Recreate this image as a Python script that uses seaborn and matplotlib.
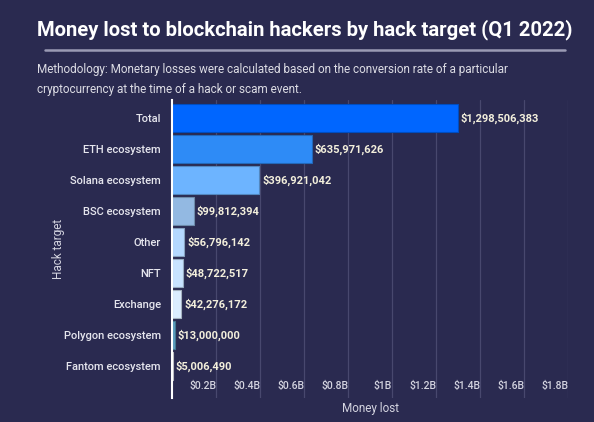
import matplotlib
matplotlib.use("Agg")
import matplotlib.pyplot as plt
import matplotlib.colors as mcolors
import seaborn as sns
import pandas as pd
import numpy as np

categories = ["Total", "ETH ecosystem", "Solana ecosystem", "BSC ecosystem", "Other",
              "NFT", "Exchange", "Polygon ecosystem", "Fantom ecosystem"]
values = [1298506383, 635971626, 396921042, 99812394, 56796142,
          48722517, 42276172, 13000000, 5006490]
colors = ["#0066ff", "#2e8bf6", "#6db4ff", "#93b9e2", "#b4d8ff",
          "#c8e3ff", "#dcedff", "#5a9dbf", "#f4f8ff"]
tick_vals = [0.2e9, 0.4e9, 0.6e9, 0.8e9, 1.0e9, 1.2e9, 1.4e9, 1.6e9, 1.8e9]
tick_labels = ["$0.2B", "$0.4B", "$0.6B", "$0.8B", "$1B", "$1.2B", "$1.4B", "$1.6B", "$1.8B"]

df = pd.DataFrame({"target": categories, "lost": values})

BG = "#2a2a50"
sns.set_theme(style="dark")
plt.rcParams["font.family"] = ["Roboto", "DejaVu Sans"]

fig = plt.figure(figsize=(5.94, 4.22), dpi=100, facecolor=BG)
ax = fig.add_axes([172/594, 1 - 398/422, (568 - 172)/594, (398 - 100)/422])
ax.set_facecolor(BG)

sns.barplot(data=df, x="lost", y="target", hue="target", palette=colors,
            order=categories, hue_order=categories, legend=False,
            orient="h", width=0.9, saturation=1, ax=ax)

for patch, c in zip(ax.patches, colors):
    rgb = np.array(mcolors.to_rgb(c)) * 0.75
    patch.set_edgecolor(rgb)
    patch.set_linewidth(0.8)

for cont in ax.containers:
    ax.bar_label(cont, labels=[f"${v:,.0f}" for v in cont.datavalues],
                 padding=2, color="#f3efdc", fontsize=8, fontweight="bold")

ax.set_xlim(0, 1.8e9)
ax.set_ylim(len(categories) - 1 + 1.03, -0.58)
ax.set_xticks(tick_vals)
ax.set_xticklabels(tick_labels, ha="right")
ax.tick_params(axis="x", pad=-12, length=0, colors="#d4d4e0", labelsize=7.5)
ax.tick_params(axis="y", length=0, colors="#e6e6ee", labelsize=8, pad=8)
for lbl in ax.get_xticklabels():
    lbl.set_fontweight("medium")
for lbl in ax.get_yticklabels():
    lbl.set_fontweight("medium")
ax.xaxis.grid(True, color="#48486e", linewidth=0.9)
ax.yaxis.grid(False)
ax.set_axisbelow(True)
for s in ["top", "right", "bottom"]:
    ax.spines[s].set_visible(False)
ax.spines["left"].set_color("#ffffff")
ax.spines["left"].set_linewidth(1.5)

ax.set_xlabel("Money lost", color="#d4d4e0", fontsize=8.5, labelpad=3)
ax.set_ylabel("Hack target", color="#d4d4e0", fontsize=8.5, labelpad=-1)

fig.text(37/594, 1 - 30/422, "Money lost to blockchain hackers by hack target (Q1 2022)",
         color="#ffffff", fontsize=14.6, fontweight="bold", va="center", ha="left")
fig.add_artist(plt.Line2D([45/594, 565/594], [1 - 50/422, 1 - 50/422],
                          color="#9a9ab4", linewidth=1.8))
fig.text(37/594, 1 - 70/422,
         "Methodology: Monetary losses were calculated based on the conversion rate of a particular",
         color="#dcdce4", fontsize=8.5, va="center", ha="left")
fig.text(37/594, 1 - 89/422,
         "cryptocurrency at the time of a hack or scam event.",
         color="#dcdce4", fontsize=8.5, va="center", ha="left")

fig.savefig("out.png", dpi=100, facecolor=BG)
